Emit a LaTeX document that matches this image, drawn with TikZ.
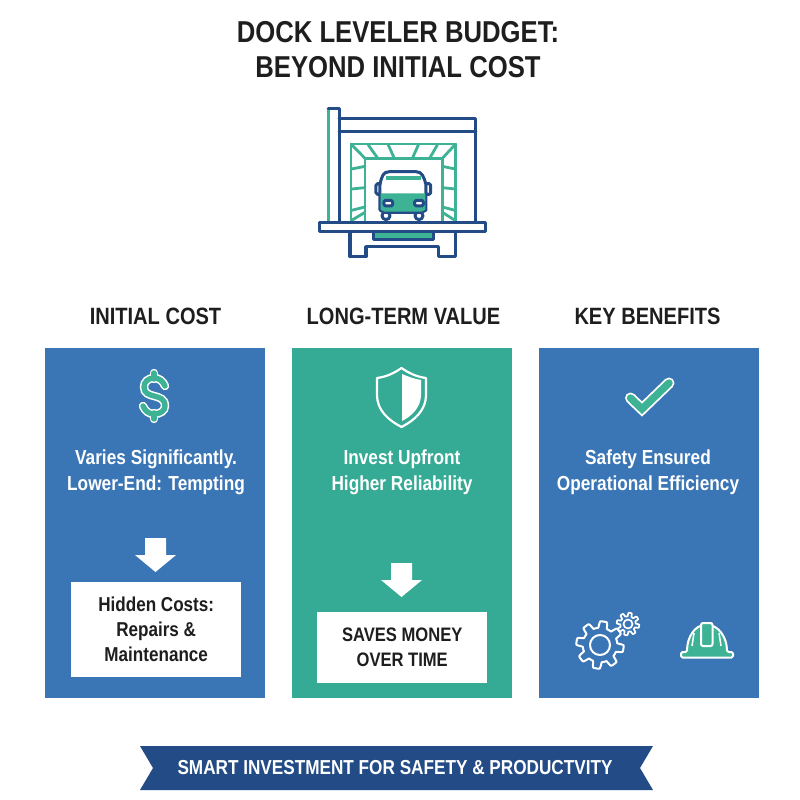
\documentclass[tikz,border=0pt]{standalone}
\usepackage{fontspec}
\setmainfont{Liberation Sans}[FakeStretch=0.85]
\definecolor{cblue}{HTML}{3A76B5}
\definecolor{cteal}{HTML}{35AB95}
\definecolor{cnavy}{HTML}{234C87}
\definecolor{cink}{HTML}{1E1E1E}
\definecolor{ciconteal}{HTML}{3DB295}
\tikzset{
  panel/.style={draw=none,minimum height=350pt,minimum width=220pt,inner sep=0pt,anchor=north west},
  whitebox/.style={fill=white,draw=none,inner sep=0pt,anchor=north west,align=center,text=cink,font=\bfseries\fontsize{20.1}{25}\selectfont},
  heading/.style={text=cink,font=\bfseries\fontsize{23.6}{26}\selectfont},
  paneltext/.style={text=white,align=center,font=\bfseries\fontsize{20.3}{26}\selectfont},
  navyline/.style={draw=cnavy,line width=3.4pt,line join=round,line cap=round},
  tealline/.style={draw=ciconteal,line width=2.8pt,line join=round,line cap=round},
  iconwhite/.style={draw=white,line width=2pt,line join=round}
}
\begin{document}
\begin{tikzpicture}[x=1pt,y=-1pt]
\useasboundingbox (0,0) rectangle (800,800);
% title
\node[text=cink,align=center,font=\bfseries\fontsize{30.2}{35}\selectfont] (title) at (398,49.5) {DOCK LEVELER BUDGET:\\BEYOND INITIAL COST};
% dock icon
\begin{scope}[shift={(300,95)},x=0.3333pt,y=-0.3333pt]
  \draw[tealline] (153,378) |- (467,147) -- (467,378);
  \draw[tealline] (195,378) |- (427,190) -- (427,378);
  \draw[tealline] (153,147)--(195,190) (467,147)--(427,190);
  \draw[tealline] (205,150)--(232,188) (265,150)--(282,188) (355,150)--(338,188) (412,150)--(390,188);
  \draw[tealline] (155,222)--(195,214) (155,282)--(195,278) (155,346)--(195,336) (155,376)--(195,352);
  \draw[tealline] (465,222)--(427,214) (465,282)--(427,278) (465,346)--(427,336) (465,376)--(427,352);
  \draw[draw=ciconteal,line width=3pt] (85,42)--(85,380);
  \draw[navyline] (85,40)--(118,40)--(118,380);
  \draw[navyline] (118,70)--(527,70)--(527,380) (118,110)--(527,110);
  % car
  \draw[navyline,line width=3pt] (258,362) circle (12) (357,362) circle (12);
  \draw[navyline,line width=3pt,fill=white,rounded corners=1.5pt] (228,266) rectangle (243,298);
  \draw[navyline,line width=3pt,fill=white,rounded corners=1.5pt] (377,266) rectangle (392,298);
  \draw[navyline,line width=3pt,fill=white] (240,345) -- (240,270) .. controls (244,245) and (250,230) .. (268,230) -- (348,230) .. controls (366,230) and (372,245) .. (378,270) -- (378,345) -- (366,352) -- (252,352) -- cycle;
  \fill[ciconteal] (258,243) rectangle (362,256);
  \fill[ciconteal] (242,295) -- (376,295) -- (376,344) -- (365,350) -- (253,350) -- (242,344) -- cycle;
  \draw[navyline,line width=3pt,fill=white,rounded corners=1.5pt] (252,316) rectangle (278,333);
  \draw[navyline,line width=3pt,fill=white,rounded corners=1.5pt] (344,316) rectangle (370,333);
  % platform
  \draw[navyline,fill=white] (58,382) rectangle (557,410);
  \draw[navyline] (150,410)--(150,485)--(198,485)--(198,455)--(415,455)--(415,485)--(467,485)--(467,410);
  \draw[navyline,fill=ciconteal] (220,410) rectangle (400,433);
\end{scope}
% headings
\node[heading] (h1) at (155.5,316) {INITIAL COST};
\node[heading] (h2) at (403.5,316) {LONG-TERM VALUE};
\node[heading] (h3) at (647.5,316) {KEY BENEFITS};
% panels
\node[panel,fill=cblue] (p1) at (45,348) {};
\node[panel,fill=cteal] (p2) at (292,348) {};
\node[panel,fill=cblue] (p3) at (539,348) {};
% dollar icon
\def\dollarpath{(165,386) .. controls (163,381) and (159,378) .. (154,378) .. controls (148,378) and (144,382) .. (144,387) .. controls (144,400) and (165,392) .. (165,406) .. controls (165,411) and (160,414) .. (154,414) .. controls (149,414) and (145,411) .. (143,406)}
\def\dollarstubs{(154,373)--(154,379) (154,413)--(154,419)}
\draw[white,line width=8.4pt,line cap=round] \dollarpath;
\draw[white,line width=8.4pt,line cap=round] \dollarstubs;
\draw[ciconteal,line width=5.4pt,line cap=round] \dollarpath;
\draw[ciconteal,line width=5.4pt,line cap=round] \dollarstubs;
% shield icon
\draw[iconwhite,line width=2.2pt] (401.5,368) .. controls (410,374) and (418,377) .. (426,378) -- (426,395) .. controls (426,410) and (415,420) .. (401.5,427) .. controls (388,420) and (377,410) .. (377,395) -- (377,378) .. controls (385,377) and (393,374) .. (401.5,368) -- cycle;
\fill[white] (402,374) .. controls (409,377) and (415,379) .. (421,380) -- (421,395) .. controls (421,407) and (412,416) .. (402,421) -- cycle;
% check icon
\draw[white,line width=11pt,line join=miter,line cap=round] (630.5,398)--(642,409)--(669,383);
\draw[ciconteal,line width=7.4pt,line join=miter,line cap=round] (630.5,398)--(642,409)--(669,383);
% panel text
\node[paneltext] (t1) at (156,472) {Varies Significantly.\\Lower-End: Tempting};
\node[paneltext] (t2) at (402,472) {Invest Upfront\\Higher Reliability};
\node[paneltext] (t3) at (648,472) {Safety Ensured\\Operational Efficiency};
% block arrows
\fill[white] (145,538)--(166,538)--(166,555)--(176,555)--(155.5,572)--(135,555)--(145,555)--cycle;
\fill[white] (391,563)--(412,563)--(412,580)--(422,580)--(401.5,597)--(381,580)--(391,580)--cycle;
% white boxes
\node[whitebox,minimum width=170pt,minimum height=95pt] (b1) at (71,582) {Hidden Costs:\\Repairs \&\\Maintenance};
\node[whitebox,minimum width=170pt,minimum height=71pt,font=\bfseries\fontsize{19.5}{25}\selectfont] (b2) at (317,612) {SAVES MONEY\\OVER TIME};
% gears
\draw[iconwhite,line join=round] plot[samples=241,domain=0:360,variable=\t] ({600+(20.5+3.2*max(-1,min(1,2.5*sin(8*\t+20))))*cos(\t)},{645+(20.5+3.2*max(-1,min(1,2.5*sin(8*\t+20))))*sin(\t)}) -- cycle;
\draw[iconwhite] (600,645) circle (10);
\draw[iconwhite,line width=1.7pt] plot[samples=161,domain=0:360,variable=\t] ({628+(9.5+1.8*max(-1,min(1,2.5*sin(8*\t))))*cos(\t)},{624+(9.5+1.8*max(-1,min(1,2.5*sin(8*\t))))*sin(\t)}) -- cycle;
\draw[iconwhite,line width=1.7pt] (628,624) circle (4.5);
% helmet
\draw[white,line width=2pt,fill=ciconteal,line join=round,rounded corners=1.5pt] (681,657.5) -- (681,652) -- (687,652) .. controls (687,637) and (695,625) .. (706.5,625) .. controls (718,625) and (727,637) .. (727,652) -- (733,652) -- (733,657.5) -- cycle;
\draw[white,line width=2pt,fill=ciconteal,rounded corners=2pt] (701,623) rectangle (712.5,646);
\draw[white,line width=1.5pt] (694,633)--(692,646) (719,633)--(721,646);
% banner
\fill[cnavy] (140,746)--(653,746)--(640,768)--(653,790)--(140,790)--(153,768)--cycle;
\node[text=white,font=\bfseries\fontsize{20.2}{25}\selectfont] (ban) at (395,768) {SMART INVESTMENT FOR SAFETY \& PRODUCTVITY};
\end{tikzpicture}
\end{document}
